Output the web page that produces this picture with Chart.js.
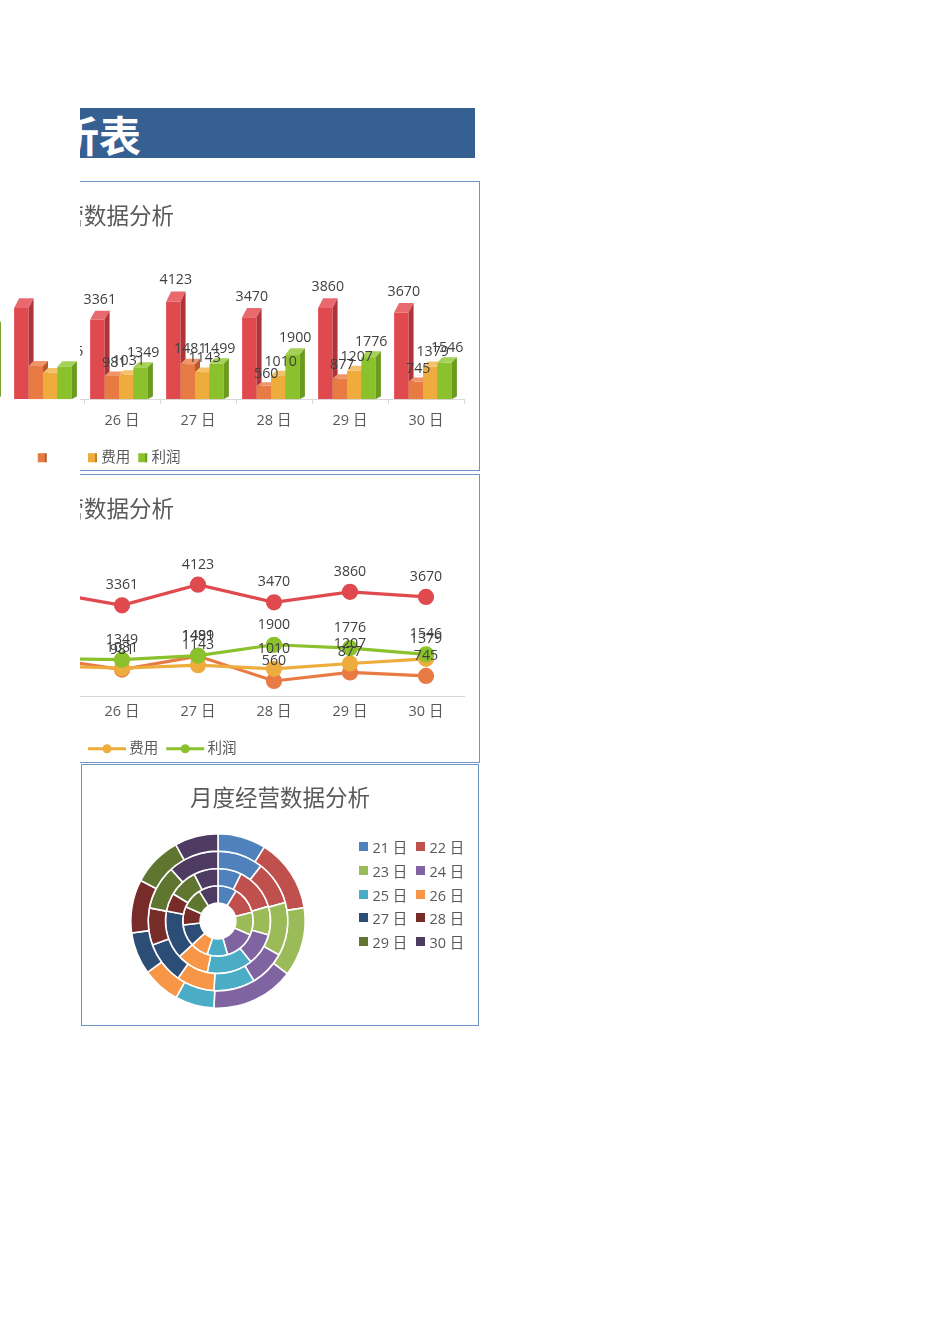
<!DOCTYPE html>
<html lang="zh">
<head>
    <meta charset="UTF-8">
    <title>月度经营数据分析表</title>
    <script src="https://cdn.jsdelivr.net/npm/chart.js"></script>
    <style>
        html, body { margin: 0; background: #fff; width: 950px; height: 1344px; overflow: hidden; }
        body { position: relative; font-family: "Open Sans", "Noto Sans CJK SC", sans-serif; }
        .abs { position: absolute; }
        #banner { left: 80px; top: 108px; width: 395px; height: 50px; background: #366092; overflow: hidden; }
        #banner span { position: absolute; right: 334px; top: 0; line-height: 52px; font-size: 42px; font-weight: 700; color: #fff; white-space: nowrap; font-family: "Noto Sans CJK SC", sans-serif; }
        .frame { border: 1px solid #6f96c6; box-sizing: border-box; pointer-events: none; }
        #clip2 { left: 80px; top: 474px; width: 400px; height: 289px; overflow: hidden; }
        #title3 { left: 81px; top: 778px; width: 398px; text-align: center; font-size: 22.5px; color: #595959; line-height: 36px; font-family: "Noto Sans CJK SC", sans-serif; }
        #legend3 { left: 359px; top: 835px; display: grid; grid-template-columns: 57px 57px; grid-auto-rows: 23.7px; font-size: 14.5px; color: #595959; }
        #legend3 div { display: flex; align-items: center; white-space: nowrap; }
        #legend3 i { width: 9px; height: 9px; margin-right: 4.5px; display: block; }
    </style>
</head>
<body>
    <div class="abs" id="banner"><span>月度经营数据分析表</span></div>

    <canvas class="abs" id="barChart" width="790" height="289" style="left:-311px;top:181px"></canvas>
    <div class="abs frame" style="left:20px;top:181px;width:460px;height:290px;border-left:0;clip-path:inset(-2px -2px -2px 60px)"></div>

    <div class="abs" id="clip2">
        <canvas class="abs" id="lineChart" width="790" height="289" style="left:-391px;top:0"></canvas>
    </div>
    <div class="abs frame" style="left:20px;top:474px;width:460px;height:289px;border-left:0;clip-path:inset(-2px -2px -2px 60px)"></div>

    <div class="abs frame" style="left:81px;top:764px;width:398px;height:262px"></div>
    <div class="abs" id="title3">月度经营数据分析</div>
    <canvas class="abs" id="pieChart" width="190" height="190" style="left:123px;top:826px"></canvas>
    <div class="abs" id="legend3"></div>

    <script>
        // 日期
        const days = ['21 日', '22 日', '23 日', '24 日', '25 日', '26 日', '27 日', '28 日', '29 日', '30 日'];

        // 数据 (21-25 日大部分被裁掉, 从环形图和残留的柱子估读)
        const revenue = [3530, 5100, 4300, 5800, 3855, 3361, 4123, 3470, 3860, 3670];
        const cost = [720, 1320, 870, 990, 1400, 981, 1481, 560, 877, 745];
        const expense = [1240, 1200, 1450, 980, 1120, 1031, 1143, 1010, 1207, 1379];
        const profit = [1712, 2620, 2460, 2950, 1385, 1349, 1499, 1900, 1776, 1546];

        const seriesNames = ['收入', '成本', '费用', '利润'];
        const seriesValues = [revenue, cost, expense, profit];
        const seriesColors = ['#E04A4F', '#E87A44', '#EDAC3C', '#8BC12C'];
        const seriesTops = ['#E8696E', '#F0956A', '#F3C26B', '#A6D157'];
        const seriesSides = ['#B03338', '#B85A2E', '#BC8526', '#6A9A1E'];
        const dayColors = ['#4F81BD', '#C0504D', '#9BBB59', '#8064A2', '#4BACC6', '#F79646', '#2C4D75', '#772C2A', '#5F7530', '#4D3B62'];

        const FONT = '"Open Sans", "Noto Sans CJK SC", sans-serif';
        const TITLE_FONT = '"Noto Sans CJK SC", sans-serif';
        const TEXT = '#595959';

        // 3D 柱子的顶面和侧面
        function facesOf(el) {
            const h = el.base - el.y;
            return { dx: 5, dy: 2.5 + h * 0.08, lift: 8 + h * 0.04 };
        }

        function clipText(c) {
            c.beginPath();
            c.rect(391, 0, 400, 289);
            c.clip();
        }

        const bar3d = {
            id: 'bar3d',
            beforeDraw(chart) {
                // 文字和坐标轴在 x=80 处被裁掉, 柱子不裁
                chart.ctx.save();
                clipText(chart.ctx);
            },
            beforeDatasetsDraw(chart) {
                const c = chart.ctx;
                c.restore();
                // 从左到右画, 后面的系列盖住前面的侧面
                c.save();
                c.translate(-3, 0);
                chart.data.datasets.forEach((ds, i) => {
                    const meta = chart.getDatasetMeta(i);
                    meta.controller.draw();
                    meta.data.forEach(el => {
                        const { dx, dy } = facesOf(el);
                        const l = el.x - el.width / 2, r = el.x + el.width / 2;
                        c.fillStyle = seriesTops[i];
                        c.beginPath();
                        c.moveTo(l, el.y); c.lineTo(r, el.y); c.lineTo(r + dx, el.y - dy); c.lineTo(l + dx, el.y - dy);
                        c.closePath(); c.fill();
                        c.fillStyle = seriesSides[i];
                        c.beginPath();
                        c.moveTo(r, el.y); c.lineTo(r + dx, el.y - dy); c.lineTo(r + dx, el.base - 2.5); c.lineTo(r, el.base);
                        c.closePath(); c.fill();
                    });
                });
                c.restore();
                // 数值标签
                c.save();
                clipText(c);
                c.font = '14.2px ' + FONT;
                c.fillStyle = '#404040';
                c.textAlign = 'center';
                c.textBaseline = 'middle';
                chart.data.datasets.forEach((ds, i) => {
                    chart.getDatasetMeta(i).data.forEach((el, j) => {
                        const { dx, dy, lift } = facesOf(el);
                        c.fillText(ds.data[j], el.x - 3 + dx / 2, el.y - dy - lift);
                    });
                });
                c.restore();
                // 图例色块不裁
                chart.legend.legendHitBoxes.forEach((box, i) => {
                    const y = box.top + box.height / 2 - 4.5;
                    c.fillStyle = seriesColors[i];
                    c.fillRect(box.left, y, 8, 9);
                    c.fillStyle = seriesSides[i];
                    c.fillRect(box.left + 7, y, 2, 9);
                });
                return false;
            }
        };

        const lineDeco = {
            id: 'lineDeco',
            afterDatasetsDraw(chart) {
                const c = chart.ctx;
                c.font = '14.2px ' + FONT;
                c.fillStyle = '#404040';
                c.textAlign = 'center';
                c.textBaseline = 'middle';
                chart.data.datasets.forEach((ds, i) => {
                    chart.getDatasetMeta(i).data.forEach((el, j) => {
                        c.fillText(ds.data[j], el.x, el.y - 20);
                    });
                });
                chart.legend.legendHitBoxes.forEach((box, i) => {
                    const y = box.top + box.height / 2;
                    c.strokeStyle = seriesColors[i];
                    c.lineWidth = 3;
                    c.beginPath();
                    c.moveTo(box.left, y); c.lineTo(box.left + 38, y);
                    c.stroke();
                    c.fillStyle = seriesColors[i];
                    c.beginPath();
                    c.arc(box.left + 19, y, 4.5, 0, Math.PI * 2);
                    c.fill();
                });
            }
        };

        function baseOptions(boxWidth, tickLen, tickPad, axisExtra, bottomPad, titlePad) {
            return {
                responsive: false,
                animation: false,
                layout: { padding: { left: 15, right: 15, top: 0, bottom: bottomPad } },
                plugins: {
                    tooltip: { enabled: false },
                    title: {
                        display: true,
                        text: '月度经营数据分析',
                        color: TEXT,
                        font: { family: TITLE_FONT, size: 22.5, weight: 'normal' },
                        padding: { top: 21, bottom: titlePad }
                    },
                    legend: {
                        position: 'bottom',
                        labels: {
                            boxWidth: boxWidth,
                            boxHeight: 9,
                            padding: 8,
                            color: TEXT,
                            font: { family: FONT, size: 14.5 },
                            sort: (a, b) => a.datasetIndex - b.datasetIndex,
                            generateLabels(chart) {
                                return Chart.defaults.plugins.legend.labels.generateLabels(chart).map(item => {
                                    item.fillStyle = 'transparent';
                                    item.strokeStyle = 'transparent';
                                    return item;
                                });
                            }
                        }
                    }
                },
                scales: {
                    x: {
                        offset: true,
                        afterFit(scale) { scale.height += axisExtra; },
                        grid: { offset: true, drawOnChartArea: false, tickLength: tickLen, tickColor: '#d9d9d9' },
                        border: { color: '#d9d9d9' },
                        ticks: { color: TEXT, padding: tickPad, font: { family: FONT, size: 14.5 }, autoSkip: false, maxRotation: 0 }
                    },
                    y: { display: false, min: 0, max: 5000 }
                }
            };
        }

        new Chart(document.getElementById('barChart'), {
            type: 'bar',
            data: {
                labels: days,
                datasets: seriesNames.map((name, i) => ({
                    label: name,
                    data: seriesValues[i],
                    backgroundColor: seriesColors[i],
                    borderWidth: 0,
                    categoryPercentage: 0.76,
                    barPercentage: 1
                }))
            },
            options: baseOptions(6, 5, 8, 5, -5, 52),
            plugins: [bar3d]
        });

        new Chart(document.getElementById('lineChart'), {
            type: 'line',
            data: {
                labels: days,
                datasets: seriesNames.map((name, i) => ({
                    label: name,
                    data: seriesValues[i],
                    order: seriesNames.length - i,
                    borderColor: seriesColors[i],
                    backgroundColor: seriesColors[i],
                    borderWidth: 3.2,
                    pointRadius: 6.5,
                    tension: 0,
                    fill: false
                }))
            },
            options: baseOptions(34, 0, 7, 6, -3, 39),
            plugins: [lineDeco]
        });

        // 环形图: 最里圈是收入, 最外圈是利润
        new Chart(document.getElementById('pieChart'), {
            type: 'doughnut',
            data: {
                labels: days,
                datasets: seriesValues.slice().reverse().map(vals => ({
                    data: vals,
                    backgroundColor: dayColors,
                    borderColor: '#fff',
                    borderWidth: 1.6
                }))
            },
            options: {
                responsive: false,
                animation: false,
                cutout: '20.5%',
                layout: { padding: 7 },
                plugins: { legend: { display: false }, tooltip: { enabled: false } }
            }
        });

        const legend3 = document.getElementById('legend3');
        days.forEach((d, i) => {
            const row = document.createElement('div');
            const sw = document.createElement('i');
            sw.style.background = dayColors[i];
            row.appendChild(sw);
            row.appendChild(document.createTextNode(d));
            legend3.appendChild(row);
        });
    </script>
</body>
</html>
